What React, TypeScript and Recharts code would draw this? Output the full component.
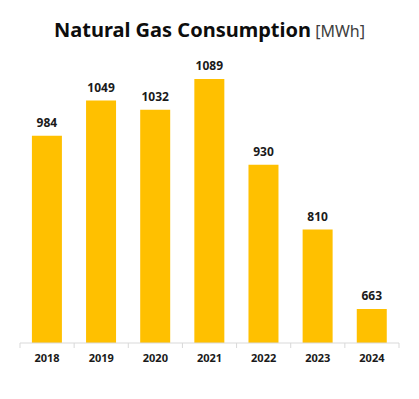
import { Bar, BarChart, LabelList, XAxis, YAxis } from "recharts";

const years = ["2018", "2019", "2020", "2021", "2022", "2023", "2024"];
const consumption = [984, 1049, 1032, 1089, 930, 810, 663];

const data = years.map((year, i) => ({ year, value: consumption[i] }));

const WIDTH = 419;
const HEIGHT = 399;
const LEFT = 20;
const RIGHT = 20;
const BAND = (WIDTH - LEFT - RIGHT) / years.length;

function YearTick(props: any) {
  const { x, y, payload, index } = props;
  const isLast = index === years.length - 1;
  return (
    <g>
      <line x1={x - BAND / 2} x2={x - BAND / 2} y1={y - 8} y2={y - 3} stroke="#d9d9d9" />
      {isLast && (
        <line x1={x + BAND / 2} x2={x + BAND / 2} y1={y - 8} y2={y - 3} stroke="#d9d9d9" />
      )}
      <text
        x={x}
        y={y + 11}
        textAnchor="middle"
        fontSize={11}
        fontWeight="bold"
        fill="#1a1a1a"
        fontFamily="'Noto Sans', sans-serif"
      >
        {payload.value}
      </text>
    </g>
  );
}

export default function App() {
  return (
    <div style={{ position: "relative", width: WIDTH, height: HEIGHT, margin: -8, background: "#fff" }}>
      <div
        style={{
          position: "absolute",
          top: 15,
          left: 0,
          width: WIDTH,
          textAlign: "center",
          fontFamily: "'Noto Sans', sans-serif",
          color: "#0d0d0d",
          whiteSpace: "nowrap",
          lineHeight: "30px",
        }}
      >
        <span style={{ fontSize: 20, fontWeight: "bold" }}>Natural Gas Consumption</span>
        <span style={{ fontSize: 16, color: "#404040" }}> [MWh]</span>
      </div>
      <BarChart
        width={WIDTH}
        height={HEIGHT}
        data={data}
        margin={{ top: 19, right: RIGHT, left: LEFT, bottom: 0 }}
        barCategoryGap="22%"
      >
        <XAxis
          dataKey="year"
          height={56}
          axisLine={{ stroke: "#d9d9d9" }}
          tickLine={false}
          tick={<YearTick />}
          interval={0}
        />
        <YAxis hide domain={[600, 1200]} allowDataOverflow />
        <Bar dataKey="value" fill="#FFC000" isAnimationActive={false}>
          <LabelList
            dataKey="value"
            position="top"
            offset={9}
            fontSize={12}
            fontWeight="bold"
            fill="#1a1a1a"
            fontFamily="'Noto Sans', sans-serif"
          />
        </Bar>
      </BarChart>
    </div>
  );
}
